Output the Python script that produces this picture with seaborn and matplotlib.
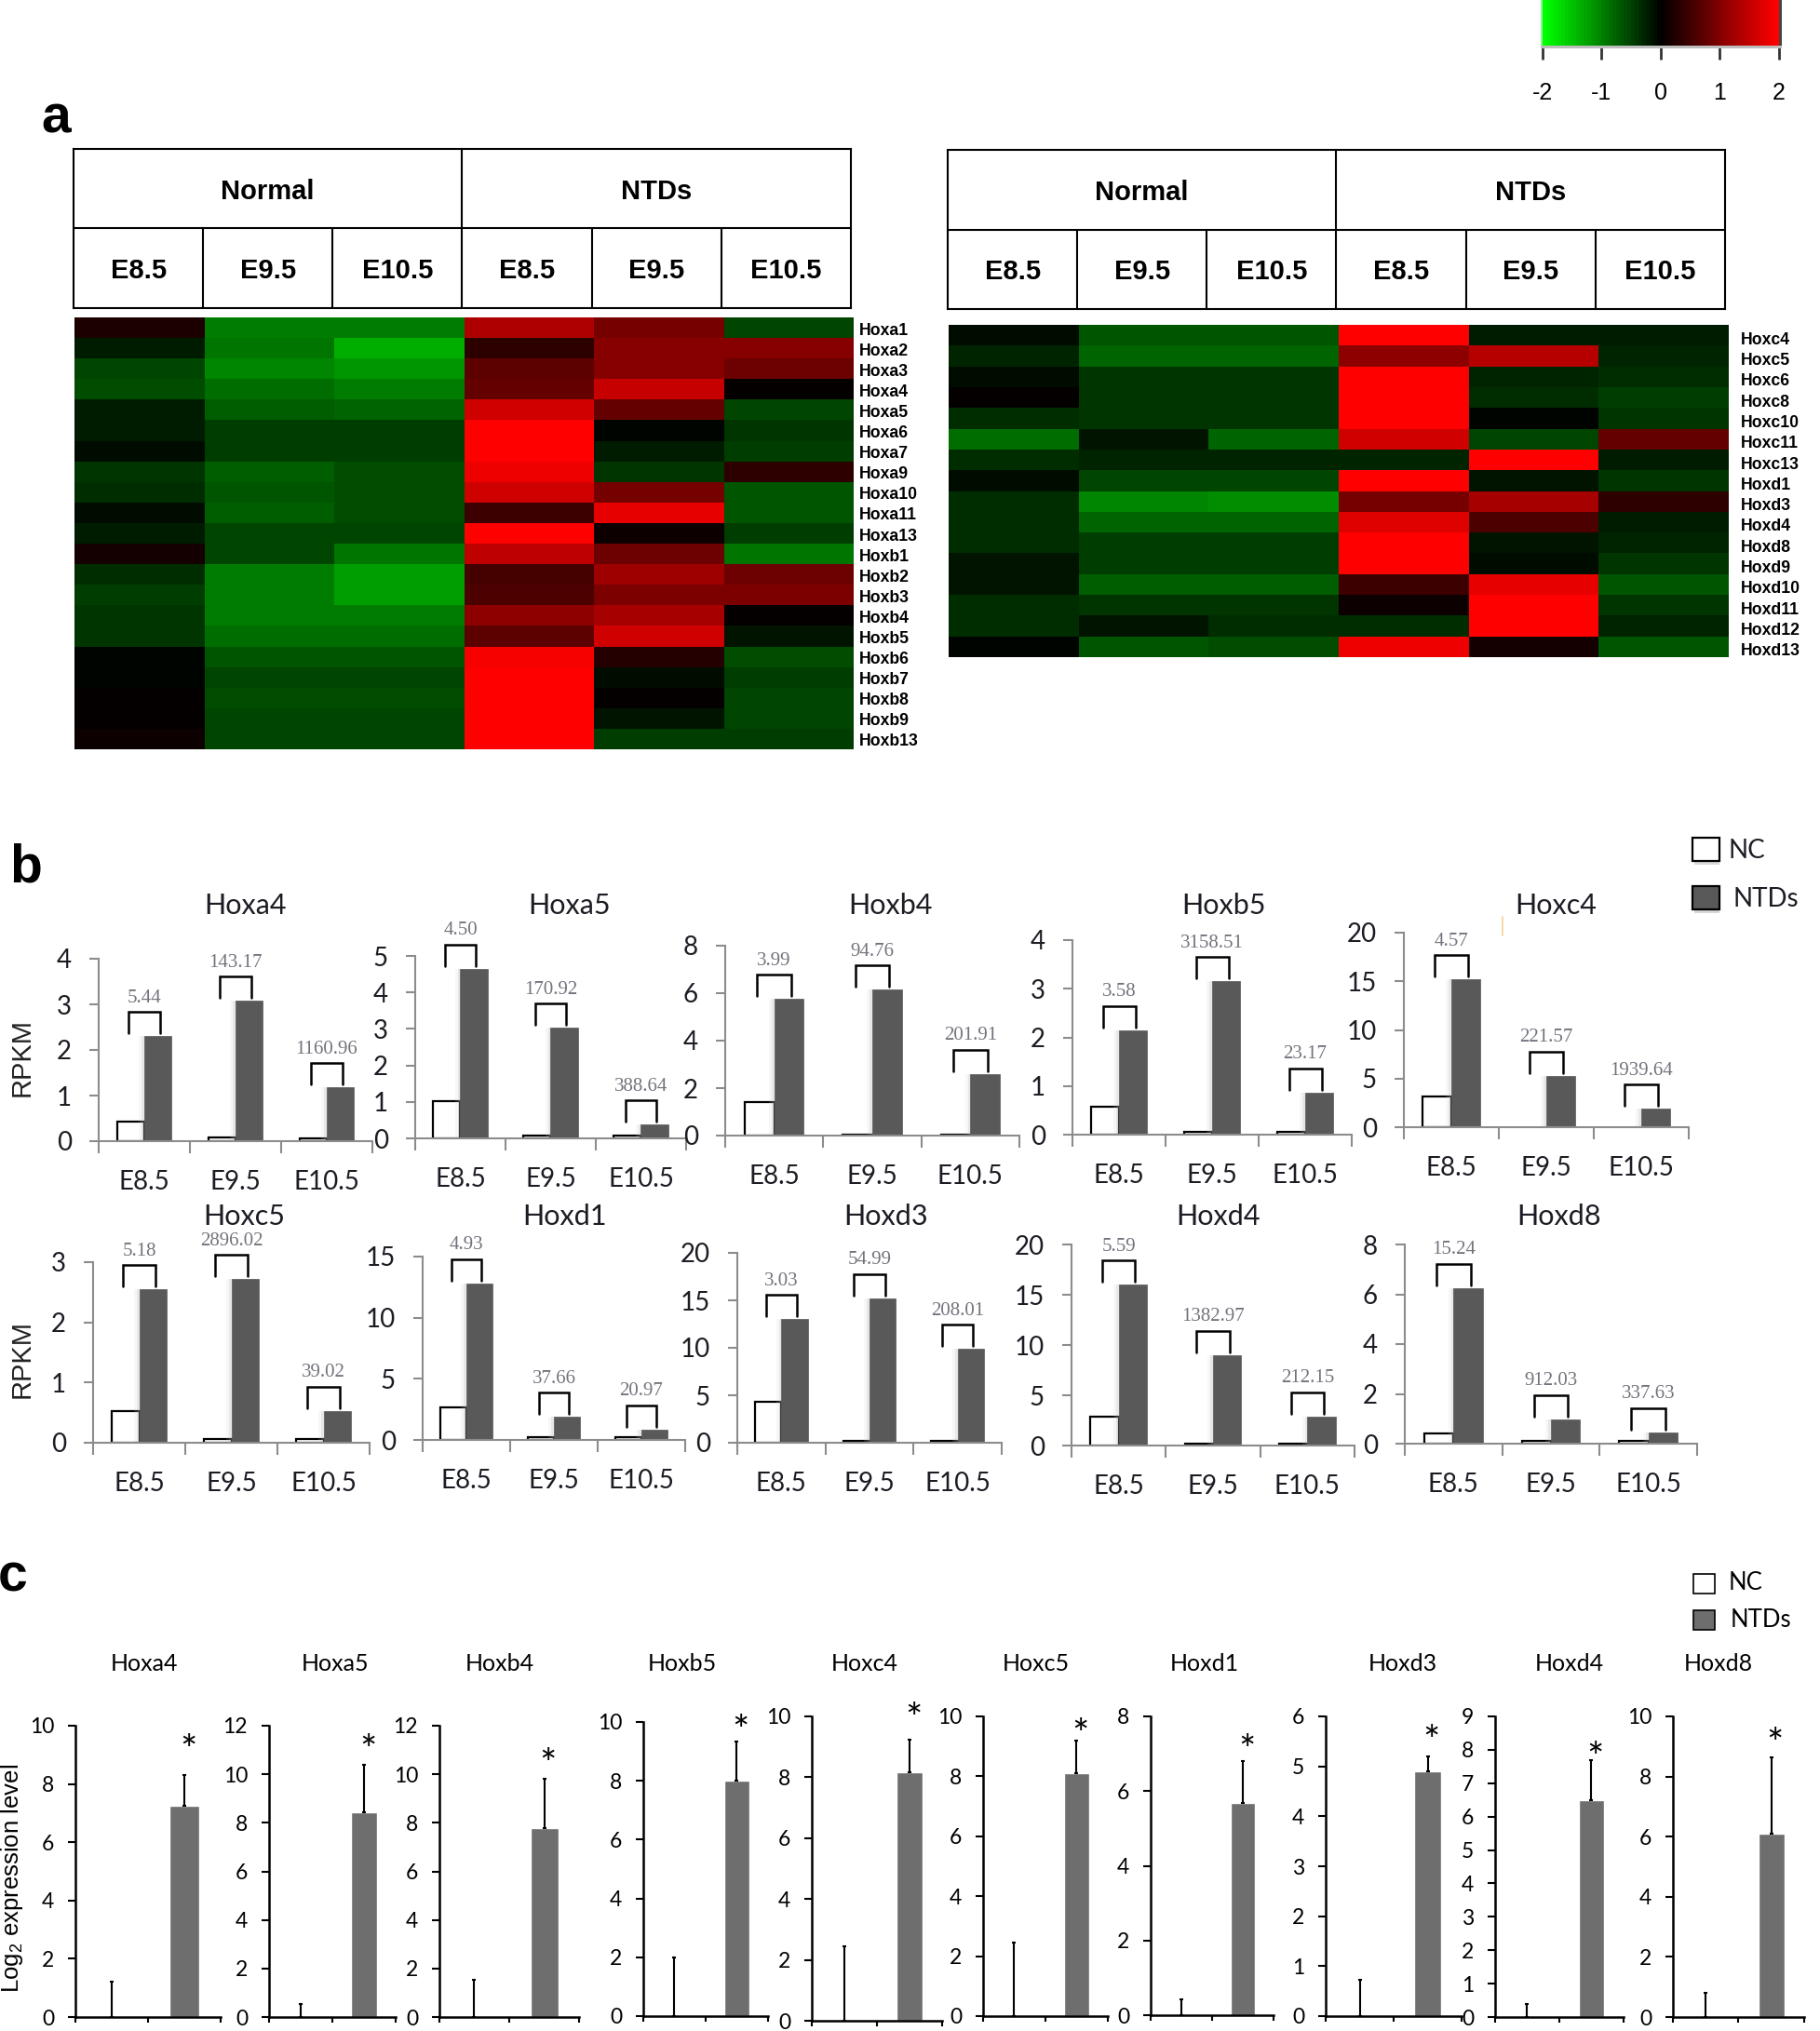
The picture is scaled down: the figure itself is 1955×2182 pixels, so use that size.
import numpy as np
import pandas as pd
import matplotlib
matplotlib.use('Agg')
import matplotlib.pyplot as plt
import matplotlib.patheffects as pe
import seaborn as sns
from matplotlib.colors import LinearSegmentedColormap
from matplotlib.patches import Rectangle
from matplotlib.lines import Line2D
from matplotlib.transforms import ScaledTranslation

# ---- heatmap data (panel a) ----
conditions = ['Normal', 'NTDs']
stages = ['E8.5', 'E9.5', 'E10.5']

genes_left = ['Hoxa1', 'Hoxa2', 'Hoxa3', 'Hoxa4', 'Hoxa5', 'Hoxa6', 'Hoxa7', 'Hoxa9', 'Hoxa10', 'Hoxa11', 'Hoxa13',
              'Hoxb1', 'Hoxb2', 'Hoxb3', 'Hoxb4', 'Hoxb5', 'Hoxb6', 'Hoxb7', 'Hoxb8', 'Hoxb9', 'Hoxb13']
heat_left = [
    [0.2, -0.95, -0.95, 1.35, 0.93, -0.55],
    [-0.25, -0.9, -1.32, 0.35, 1.0, 1.05],
    [-0.55, -1.05, -1.15, 0.7, 1.0, 0.85],
    [-0.6, -0.85, -0.95, 0.8, 1.5, 0.0],
    [-0.2, -0.75, -0.8, 1.6, 0.75, -0.55],
    [-0.25, -0.5, -0.5, 2.0, -0.05, -0.4],
    [-0.07, -0.45, -0.45, 2.0, -0.25, -0.5],
    [-0.4, -0.7, -0.6, 1.85, -0.4, 0.35],
    [-0.35, -0.65, -0.62, 1.6, 0.9, -0.65],
    [-0.1, -0.7, -0.62, 0.45, 1.8, -0.65],
    [-0.25, -0.52, -0.52, 2.0, 0.1, -0.45],
    [0.15, -0.55, -0.9, 1.45, 0.85, -0.9],
    [-0.35, -1.0, -1.2, 0.5, 1.2, 0.85],
    [-0.5, -1.0, -1.2, 0.6, 0.95, 0.95],
    [-0.4, -0.95, -0.95, 1.1, 1.25, 0.0],
    [-0.4, -0.85, -0.85, 0.7, 1.6, -0.15],
    [-0.02, -0.65, -0.65, 1.9, 0.25, -0.6],
    [-0.05, -0.55, -0.55, 1.95, -0.1, -0.5],
    [0.0, -0.6, -0.6, 2.0, 0.0, -0.55],
    [0.0, -0.55, -0.55, 2.0, -0.15, -0.55],
    [0.1, -0.55, -0.55, 2.0, -0.5, -0.5],
]

genes_right = ['Hoxc4', 'Hoxc5', 'Hoxc6', 'Hoxc8', 'Hoxc10', 'Hoxc11', 'Hoxc13', 'Hoxd1', 'Hoxd3', 'Hoxd4', 'Hoxd8',
               'Hoxd9', 'Hoxd10', 'Hoxd11', 'Hoxd12', 'Hoxd13']
heat_right = [
    [-0.08, -0.65, -0.65, 2.0, -0.2, -0.25],
    [-0.3, -0.8, -0.8, 1.1, 1.4, -0.3],
    [-0.07, -0.4, -0.4, 2.0, -0.3, -0.35],
    [0.0, -0.42, -0.42, 2.0, -0.35, -0.45],
    [-0.35, -0.4, -0.4, 2.0, -0.05, -0.4],
    [-0.85, -0.15, -0.8, 1.6, -0.55, 0.75],
    [-0.35, -0.3, -0.3, -0.3, 2.0, -0.25],
    [-0.1, -0.55, -0.55, 2.0, -0.18, -0.4],
    [-0.35, -1.05, -1.1, 0.9, 1.25, 0.35],
    [-0.33, -0.8, -0.8, 1.7, 0.6, -0.25],
    [-0.33, -0.5, -0.5, 2.0, -0.15, -0.28],
    [-0.17, -0.5, -0.5, 2.0, -0.1, -0.4],
    [-0.17, -0.7, -0.7, 0.45, 1.75, -0.65],
    [-0.35, -0.42, -0.42, 0.08, 2.0, -0.42],
    [-0.35, -0.17, -0.33, -0.33, 2.0, -0.3],
    [-0.05, -0.65, -0.6, 1.85, 0.15, -0.65],
]

# ---- RPKM data (panel b) ----
b_genes = ['Hoxa4', 'Hoxa5', 'Hoxb4', 'Hoxb5', 'Hoxc4', 'Hoxc5', 'Hoxd1', 'Hoxd3', 'Hoxd4', 'Hoxd8']
b_nc = [[0.43, 0.08, 0.07], [1.03, 0.08, 0.08], [1.4, 0.05, 0.05], [0.57, 0.05, 0.05], [3.15, np.nan, np.nan],
        [0.53, 0.06, 0.06], [2.65, 0.2, 0.2], [4.3, 0.2, 0.2], [2.9, 0.2, 0.2], [0.42, 0.1, 0.1]]
b_ntd = [[2.3, 3.08, 1.18], [4.65, 3.03, 0.38], [5.75, 6.15, 2.6], [2.15, 3.15, 0.87], [15.2, 5.3, 1.9],
         [2.55, 2.72, 0.53], [12.8, 1.9, 0.85], [13.0, 15.2, 9.9], [16.0, 9.0, 2.9], [6.25, 0.98, 0.45]]
b_fold = [['5.44', '143.17', '1160.96'], ['4.50', '170.92', '388.64'], ['3.99', '94.76', '201.91'],
          ['3.58', '3158.51', '23.17'], ['4.57', '221.57', '1939.64'], ['5.18', '2896.02', '39.02'],
          ['4.93', '37.66', '20.97'], ['3.03', '54.99', '208.01'], ['5.59', '1382.97', '212.15'],
          ['15.24', '912.03', '337.63']]
b_ymax = [4, 5, 8, 4, 20, 3, 15, 20, 20, 8]
b_step = [1, 1, 2, 1, 5, 1, 5, 5, 5, 2]

# ---- qPCR data (panel c) ----
c_genes = ['Hoxa4', 'Hoxa5', 'Hoxb4', 'Hoxb5', 'Hoxc4', 'Hoxc5', 'Hoxd1', 'Hoxd3', 'Hoxd4', 'Hoxd8']
c_groups = ['NC', 'NTDs']
c_ntd = [7.25, 8.45, 7.8, 8.0, 8.15, 8.1, 5.68, 4.9, 6.5, 6.1]
c_nc_err = [1.2, 0.55, 1.55, 2.0, 2.45, 2.45, 0.42, 0.72, 0.38, 0.8]
c_ntd_err = [1.05, 1.95, 2.0, 1.35, 1.1, 1.1, 1.12, 0.3, 1.2, 2.55]
c_ymax = [10, 12, 12, 10, 10, 10, 8, 6, 9, 10]
c_step = [2, 2, 2, 2, 2, 2, 2, 1, 1, 2]

# ---- layout, in pixels of the 1956x2182 picture: left, right, top tick, baseline ----
b_boxes = [(106, 400, 1030, 1226), (446, 737, 1027, 1223), (779, 1095, 1016, 1220), (1152, 1452, 1010, 1219),
           (1508, 1814, 1002, 1211), (100, 397, 1356, 1550), (454, 736, 1350, 1547), (792, 1076, 1346, 1550),
           (1151, 1455, 1337, 1553), (1509, 1823, 1337, 1551)]
b_title_pos = [(264, 971), (612, 971), (956, 971), (1315, 971), (1671, 971),
               (262, 1305), (607, 1305), (952, 1305), (1308, 1305), (1675, 1305)]
c_boxes = [(81, 237, 1854, 2167), (289, 425, 1854, 2167), (472, 622, 1854, 2167), (691, 825, 1850, 2166),
           (872, 1012, 1844, 2171), (1056, 1190, 1844, 2166), (1236, 1368, 1844, 2165), (1424, 1570, 1844, 2166),
           (1606, 1744, 1844, 2167), (1797, 1938, 1844, 2167)]
c_title_x = [155, 360, 537, 733, 929, 1113, 1294, 1507, 1686, 1846]
c_star_gap = [39, 28, 28, 23, 34, 19, 24, 29, 15, 26]

W, H = 1956, 2182

sns.set_theme(style='white')
plt.rcParams['font.family'] = ['Liberation Sans', 'DejaVu Sans']
plt.rcParams['mathtext.default'] = 'regular'
plt.rcParams['text.color'] = 'black'

fig = plt.figure(figsize=(W / 100, H / 100), dpi=100, facecolor='white')


def px_axes(left, right, top, bottom):
    ax = fig.add_axes([left / W, 1 - bottom / H, (right - left) / W, (bottom - top) / H])
    ax.patch.set_alpha(0)
    return ax


def px_text(x, y, s, **kw):
    kw.setdefault('ha', 'center')
    kw.setdefault('va', 'center')
    fig.text(x / W, 1 - (y + 2.5) / H, s, **kw)


def px_box(left, top, width, height, **kw):
    fig.add_artist(Rectangle((left / W, 1 - (top + height) / H), width / W, height / H,
                             transform=fig.transFigure, **kw))


# panel letters
px_text(60, 125, 'a', fontsize=41, fontweight='bold')
px_text(28, 930, 'b', fontsize=41, fontweight='bold')
px_text(14, 1692, 'c', fontsize=41, fontweight='bold')

# heatmaps
green_red = LinearSegmentedColormap.from_list('green_red', ['#00ff00', '#000000', '#ff0000'], N=64)


def draw_heat(box, values, genes, pad, drop):
    ax = px_axes(*box)
    frame = pd.DataFrame(values, index=genes)
    sns.heatmap(frame, cmap=green_red, vmin=-2, vmax=2, cbar=False, xticklabels=False, yticklabels=True, ax=ax)
    ax.set_ylabel('')
    ax.yaxis.tick_right()
    ax.tick_params(axis='y', length=0, pad=pad, labelrotation=0)
    shift = ScaledTranslation(0, -drop / 100, fig.dpi_scale_trans)
    for label in ax.get_yticklabels():
        label.set_fontsize(12.7)
        label.set_fontweight('bold')
        label.set_color('black')
        label.set_transform(label.get_transform() + shift)


draw_heat((80, 917, 341, 805), heat_left, genes_left, 4, 1)
draw_heat((1019, 1857, 349, 706), heat_right, genes_right, 9, 3)


def draw_table(box):
    ax = px_axes(*box)
    ax.set_xlim(0, 6)
    ax.set_ylim(0, 2)
    ax.set_xticks([])
    ax.set_yticks([])
    for side in ax.spines.values():
        side.set_linewidth(1.5)
        side.set_color('black')
    ax.axhline(1, color='black', lw=1.5)
    ax.axvline(3, color='black', lw=1.5)
    for i, cond in enumerate(conditions):
        ax.text(1.5 + 3 * i, 1.465, cond, ha='center', va='center', fontsize=21, fontweight='bold', color='black')
        for j, st in enumerate(stages):
            ax.text(3 * i + j + 0.5, 0.465, st, ha='center', va='center', fontsize=21, fontweight='bold', color='black')
            if j > 0:
                ax.vlines(3 * i + j, 0, 1, color='black', lw=1.5)


draw_table((79, 914, 160, 331))
draw_table((1018, 1853, 161, 332))

# colour scale, drawn through seaborn's own colourbar
px_box(1655, 0, 2, 49, facecolor='#90f590', edgecolor='none')
px_box(1911, 0, 3, 49, facecolor='#444444', edgecolor='none')
px_box(1655, 49, 259, 3, facecolor='#bdbdbd', edgecolor='none')
scale_ax = px_axes(1657, 1911, 0, 49)
scale_host = fig.add_axes([0, 0, 0.001, 0.001])
sns.heatmap([[0]], cmap=green_red, vmin=-2, vmax=2, ax=scale_host, cbar_ax=scale_ax,
            cbar_kws={'orientation': 'horizontal', 'ticks': [-2, -1, 0, 1, 2]})
scale_host.set_visible(False)
scale_ax.tick_params(axis='x', length=11, width=2, color='#333333', pad=17, labelsize=18, labelcolor='black', bottom=True)
scale_ax.set_xticklabels(['-2', '-1', '0', '1', '2'])

# panel b
TICK_FONT = ['Lato', 'DejaVu Sans']
GREY = '#8c8c8c'
DARK = '#595959'
bar_shadow = [pe.SimplePatchShadow(offset=(-4, 0), shadow_rgbFace='#cccccc', alpha=0.15),
              pe.SimplePatchShadow(offset=(-2, 0), shadow_rgbFace='#aaaaaa', alpha=0.2),
              pe.Normal()]
for i, gene in enumerate(b_genes):
    left, right, top, bottom = b_boxes[i]
    ax = px_axes(left, right, top, bottom)
    df = pd.DataFrame({'stage': stages * 2,
                       'group': ['NC'] * 3 + ['NTDs'] * 3,
                       'rpkm': b_nc[i] + b_ntd[i]})
    sns.barplot(data=df, x='stage', y='rpkm', hue='group', order=stages, hue_order=['NC', 'NTDs'],
                palette={'NC': 'white', 'NTDs': DARK}, width=0.6, gap=0, edgecolor='black', linewidth=1.6,
                errorbar=None, legend=False, ax=ax)
    for bar in ax.containers[1]:
        bar.set_edgecolor(DARK)
        bar.set_linewidth(0.5)
        bar.set_path_effects(bar_shadow)
    ax.set_xlim(-0.5, 2.5)
    ax.set_ylim(0, b_ymax[i])
    ax.set_xlabel('')
    ax.set_ylabel('')
    ax.set_yticks(np.arange(0, b_ymax[i] + b_step[i], b_step[i]))
    ax.set_xticks([-0.5, 0.5, 1.5, 2.5], minor=True)
    ax.tick_params(axis='x', which='minor', bottom=True, length=9.5, width=1.5, color=GREY)
    ax.tick_params(axis='x', which='major', length=0, pad=22, labelsize=20, labelcolor='#1c1c24')
    ax.tick_params(axis='y', left=True, length=7, width=1.5, color=GREY, pad=14, labelsize=20, labelcolor='#1c1c24')
    for label in ax.get_xticklabels() + ax.get_yticklabels():
        label.set_family(TICK_FONT)
    sns.despine(ax=ax)
    ax.spines['left'].set(color=GREY, linewidth=1.5)
    ax.spines['bottom'].set(color=GREY, linewidth=1.5)
    # bracket and fold change over each pair of bars
    per_px = b_ymax[i] / (bottom - top)
    for j, fold in enumerate(b_fold[i]):
        low = b_ntd[i][j] + 3 * per_px
        high = b_ntd[i][j] + 26 * per_px
        ax.plot([j - 0.175, j - 0.175, j + 0.175, j + 0.175], [low, high, high, low],
                color='black', lw=1.8, clip_on=False, solid_joinstyle='miter')
        ax.text(j, high + 15 * per_px, fold, ha='center', va='center', fontsize=15,
                family=['Liberation Serif', 'DejaVu Serif'], color='#72727c')
    px_text(b_title_pos[i][0], b_title_pos[i][1], gene, fontsize=22, family=TICK_FONT, color='#1c1c24')

px_text(24, 1134, 'RPKM', rotation=90, fontsize=21, color='#222222')
px_text(24, 1457, 'RPKM', rotation=90, fontsize=21, color='#222222')

# legend of panel b
px_box(1820, 904, 27, 25, facecolor='#d8d8d8', edgecolor='none')
px_box(1818, 900, 29, 25, facecolor='white', edgecolor='black', linewidth=1.6)
px_text(1857, 912, 'NC', ha='left', fontsize=20, family=TICK_FONT, color='#1c1c24')
px_box(1820, 956, 27, 25, facecolor='#d8d8d8', edgecolor='none')
px_box(1818, 952, 29, 25, facecolor=DARK, edgecolor='black', linewidth=1.6)
px_text(1862, 964, 'NTDs', ha='left', fontsize=20, family=TICK_FONT, color='#1c1c24')
fig.add_artist(Line2D([1614 / W, 1614 / W], [1 - 985 / H, 1 - 1005 / H], color='#f4d596', lw=1.2))

# panel c
BAR_GREY = '#6e6e6e'
for i, gene in enumerate(c_genes):
    left, right, top, bottom = c_boxes[i]
    ax = px_axes(left, right, top, bottom)
    df = pd.DataFrame({'group': c_groups, 'level': [0, c_ntd[i]]})
    sns.barplot(data=df, x='group', y='level', hue='group', order=c_groups, hue_order=c_groups,
                palette={'NC': 'white', 'NTDs': BAR_GREY}, width=0.4, errorbar=None, legend=False, ax=ax)
    ax.errorbar([0, 1], [0, c_ntd[i]], yerr=[[0, 0], [c_nc_err[i], c_ntd_err[i]]], fmt='none', ecolor='black',
                elinewidth=1.5, capsize=1.5, capthick=1.5, clip_on=False)
    ax.set_xlim(-0.5, 1.5)
    ax.set_ylim(0, c_ymax[i])
    ax.set_xlabel('')
    ax.set_ylabel('')
    ax.set_yticks(np.arange(0, c_ymax[i] + c_step[i], c_step[i]))
    ax.set_xticks([-0.5, 0.5, 1.5])
    ax.set_xticklabels([])
    ax.tick_params(axis='x', bottom=True, length=4, width=1.5, color='black')
    ax.tick_params(axis='y', left=True, length=5.5, width=1.5, color='black', pad=11, labelsize=16.5, labelcolor='black')
    for label in ax.get_yticklabels():
        label.set_family(TICK_FONT)
    sns.despine(ax=ax)
    ax.spines['left'].set(color='black', linewidth=1.8)
    ax.spines['bottom'].set(color='black', linewidth=1.8)
    ax.annotate('*', xy=(1, c_ntd[i] + c_ntd_err[i]), xytext=(3, c_star_gap[i] * 0.72 - 10), textcoords='offset points',
                ha='center', va='center', fontsize=31, family=TICK_FONT, color='black', annotation_clip=False)
    px_text(c_title_x[i], 1785, gene, fontsize=18, family=TICK_FONT, color='black')

px_text(13, 2015, 'Log$_2$ expression level', rotation=90, fontsize=18.5, color='black')

# legend of panel c
px_box(1819, 1691, 23, 21, facecolor='white', edgecolor='black', linewidth=1.2)
px_text(1857, 1698, 'NC', ha='left', fontsize=18.5, family=TICK_FONT, color='black')
px_box(1819, 1730, 23, 21, facecolor=BAR_GREY, edgecolor='black', linewidth=1.2)
px_text(1859, 1738, 'NTDs', ha='left', fontsize=18.5, family=TICK_FONT, color='black')

fig.savefig('out.png', dpi=100, facecolor='white')
